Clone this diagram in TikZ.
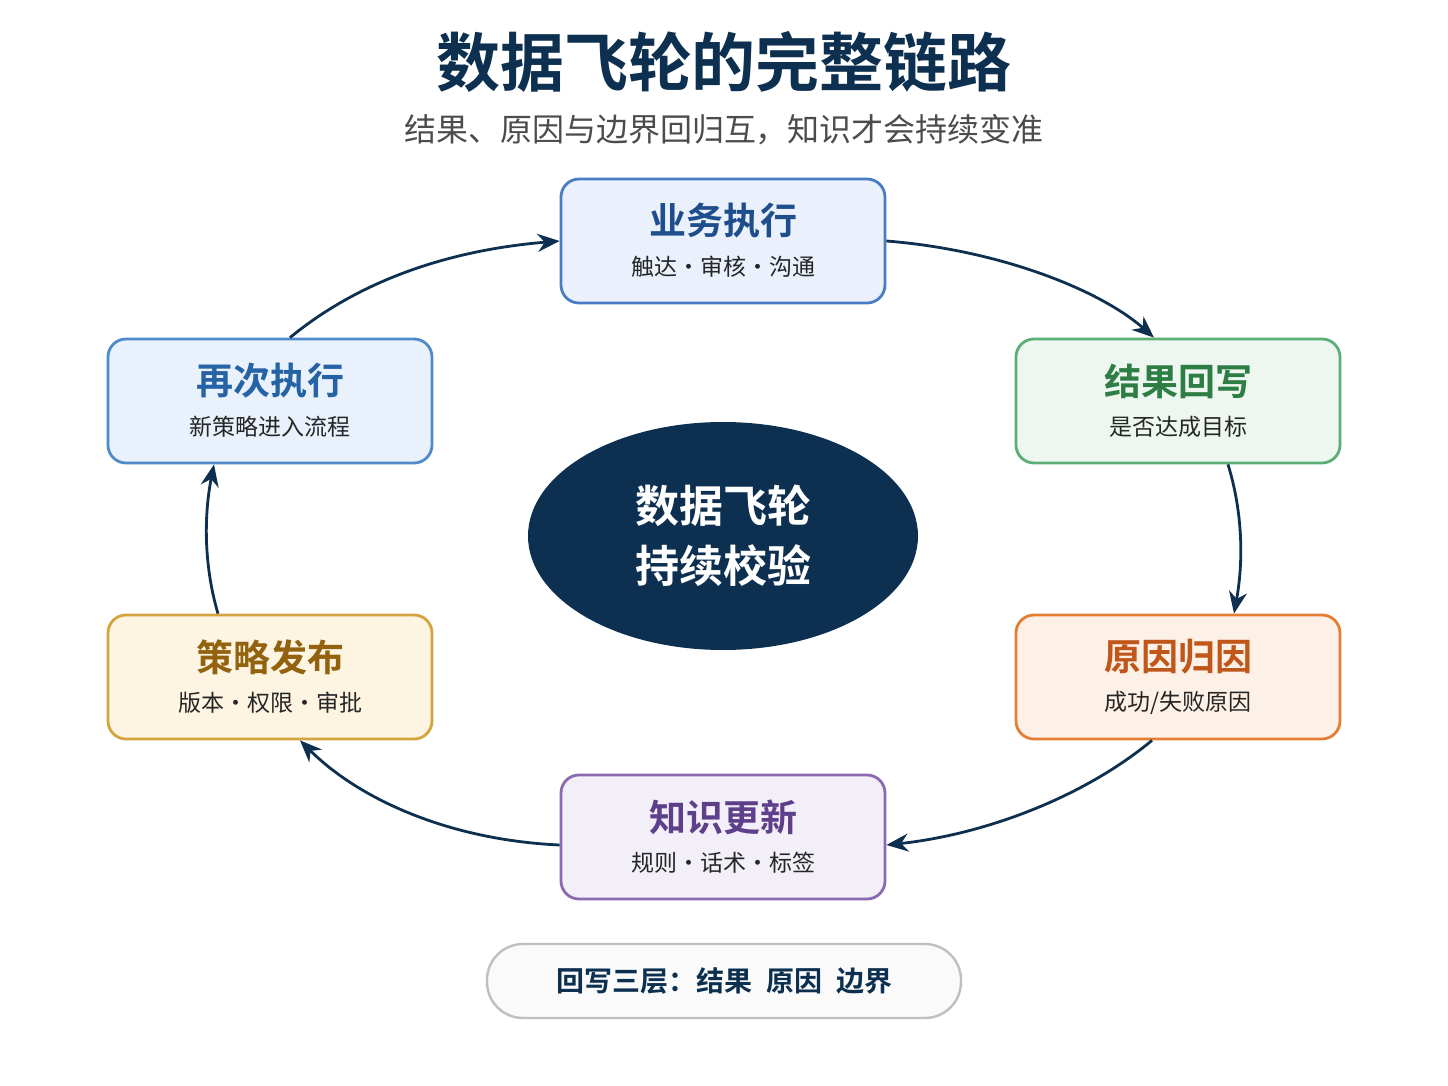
\documentclass[tikz,border=0pt]{standalone}
\usepackage{fontspec}
\setmainfont{Noto Sans CJK SC}
\newfontfamily\cjkb{Noto Sans CJK SC Bold}
\usetikzlibrary{arrows.meta,shapes.geometric}
\definecolor{navy}{HTML}{0D3050}
\definecolor{bBlue}{HTML}{4A7CC4}\definecolor{fBlue}{HTML}{EAF1FC}
\definecolor{bGreen}{HTML}{5BAF74}\definecolor{fGreen}{HTML}{EDF7EF}
\definecolor{bOrange}{HTML}{E57E35}\definecolor{fOrange}{HTML}{FDF0E6}
\definecolor{bPurple}{HTML}{8A6BB0}\definecolor{fPurple}{HTML}{F3EFF8}
\definecolor{bGold}{HTML}{D4A53E}\definecolor{fGold}{HTML}{FDF5E2}
\definecolor{bSky}{HTML}{4F8ACB}\definecolor{fSky}{HTML}{E9F2FC}
\definecolor{tBlue}{HTML}{1F4E8C}\definecolor{tGreen}{HTML}{2E7D45}
\definecolor{tOrange}{HTML}{C0561A}\definecolor{tPurple}{HTML}{5E3F8A}
\definecolor{tGold}{HTML}{93620F}\definecolor{tSky}{HTML}{2563A5}
\begin{document}
\begin{tikzpicture}[x=0.5pt,y=-0.5pt,
 box/.style={draw=#1, line width=1.4pt, rounded corners=9pt, minimum width=162pt, minimum height=62pt, inner sep=0pt},
 ttl/.style={font=\cjkb\fontsize{18.5}{20}\selectfont, text=#1},
 sub/.style={font=\fontsize{11.5}{13}\selectfont, text=black!85},
 arr/.style={draw=navy, line width=1.4pt, -{Stealth[length=11pt,width=9pt]}}]
\useasboundingbox (0,0) rectangle (1448,1086);
\fill[white] (0,0) rectangle (1448,1086);
\node[font=\cjkb\fontsize{32}{34}\selectfont, text=navy] (title) at (724,62) {数据飞轮的完整链路};
\node[font=\fontsize{16}{18}\selectfont, text=black!70] (subt) at (724,130) {结果、原因与边界回归互，知识才会持续变准};
\newcommand{\mybox}[7]{%
 \node[box=#4, fill=#5] (#1) at (#2) {};
 \node[ttl=#6] at ([yshift=10pt]#1.center) {#3};
 \node[sub] at ([yshift=-13pt]#1.center) {#7};}
\mybox{a}{723,241}{业务执行}{bBlue}{fBlue}{tBlue}{触达·审核·沟通}
\mybox{b}{1178,401}{结果回写}{bGreen}{fGreen}{tGreen}{是否达成目标}
\mybox{c}{1178,677}{原因归因}{bOrange}{fOrange}{tOrange}{成功/失败原因}
\mybox{d}{723,837}{知识更新}{bPurple}{fPurple}{tPurple}{规则·话术·标签}
\mybox{e}{270,677}{策略发布}{bGold}{fGold}{tGold}{版本·权限·审批}
\mybox{f}{270,401}{再次执行}{bSky}{fSky}{tSky}{新策略进入流程}
\node[ellipse, fill=navy, minimum width=195pt, minimum height=114pt, inner sep=0pt] (o) at (723,536) {};
\node[font=\cjkb\fontsize{22}{30}\selectfont, text=white, align=center] at (o) {数据飞轮\\持续校验};
\node[draw=black!25, line width=1.2pt, fill=black!2, rounded corners=18pt, minimum width=237pt, minimum height=37pt,
 font=\cjkb\fontsize{14}{16}\selectfont, text=navy] (leg) at (724,981) {回写三层：结果\enspace 原因\enspace 边界};
\draw[arr] ([xshift=10pt]f.north) .. controls (360,280) and (450,250) .. (a.west);
\draw[arr] (a.east) .. controls (1000,250) and (1100,290) .. ([xshift=-12pt]b.north);
\draw[arr] ([xshift=25pt]b.south) .. controls (1245,520) and (1242,570) .. ([xshift=28pt]c.north);
\draw[arr] ([xshift=-13pt]c.south) .. controls (1080,800) and (980,835) .. ([yshift=-4pt]d.east);
\draw[arr] ([yshift=-4pt]d.west) .. controls (450,840) and (360,800) .. ([xshift=15pt]e.south);
\draw[arr] ([xshift=-26pt]e.north) .. controls (205,570) and (203,520) .. ([xshift=-28pt]f.south);
\end{tikzpicture}
\end{document}
